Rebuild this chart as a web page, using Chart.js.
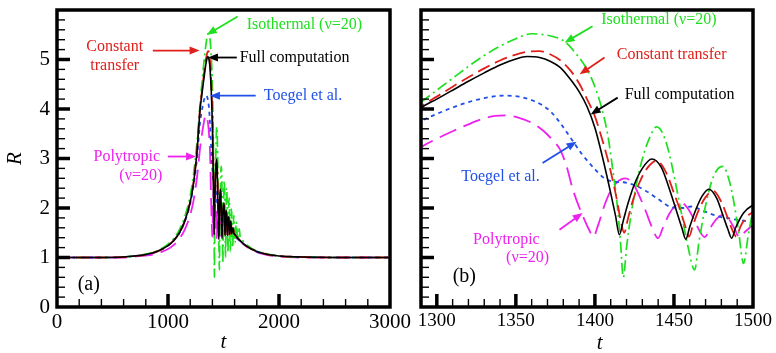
<!DOCTYPE html>
<html>
<head>
<meta charset="utf-8">
<script src="https://cdn.jsdelivr.net/npm/chart.js@4.4.1/dist/chart.umd.min.js"></script>
<style>
  html, body { margin: 0; padding: 0; background: #fff; }
  #wrap { position: relative; width: 776px; height: 353px; }
  #wrap canvas { position: absolute; left: 0; top: 0; }
</style>
</head>
<body>
<div id="wrap">
  <canvas id="chartA" width="776" height="353"></canvas>
  <canvas id="chartB" width="776" height="353"></canvas>
</div>
<script>
// bubble radius R against time t (t in the same units as the axis)

// Full computation
const tFull = [0, 400, 600, 700, 800, 900, 1000, 1050, 1100, 1150, 1200, 1230, 1260, 1290, 1300, 1310, 1320, 1330, 1340, 1350,
  1357, 1365, 1372, 1378, 1384, 1390, 1395, 1400, 1405, 1410, 1413, 1415.5, 1418, 1421, 1425, 1430, 1436, 1442, 1448, 1452,
  1455, 1457.5, 1460, 1464, 1468, 1472, 1477, 1481, 1484, 1486.5, 1489, 1494, 1500, 1504, 1508, 1511, 1513.5, 1516, 1521, 1525,
  1530, 1533, 1535.5, 1538, 1543, 1547, 1552, 1555.5, 1559, 1564, 1570, 1574, 1580, 1586, 1592, 1600, 1650, 1700, 1800, 1900,
  2000, 2200, 2500, 3000];
const rFull = [1.0, 1.0, 1.01, 1.03, 1.06, 1.12, 1.24, 1.34, 1.49, 1.73, 2.12, 2.5, 3.1, 4.02, 4.2, 4.38, 4.56, 4.73, 4.89, 5.01,
  5.06, 5.04, 4.96, 4.84, 4.62, 4.35, 4.05, 3.62, 3.0, 2.3, 1.85, 1.46, 1.75, 2.1, 2.48, 2.8, 2.99, 2.82, 2.3, 1.9,
  1.6, 1.37, 1.62, 1.98, 2.25, 2.38, 2.2, 1.85, 1.58, 1.39, 1.6, 1.9, 2.06, 2.1, 1.9, 1.65, 1.45, 1.63, 1.9, 1.95,
  1.75, 1.58, 1.45, 1.6, 1.8, 1.82, 1.64, 1.47, 1.62, 1.73, 1.6, 1.48, 1.58, 1.6, 1.5, 1.47, 1.34, 1.24, 1.12, 1.06,
  1.03, 1.01, 1.0, 1.0];

// Constant transfer
const tConst = [0, 400, 600, 700, 800, 900, 1000, 1050, 1100, 1150, 1200, 1230, 1260, 1290, 1300, 1310, 1320, 1330, 1340, 1350,
  1358, 1365, 1372, 1379, 1385, 1390, 1395, 1400, 1404, 1408, 1411, 1414, 1416, 1418.5, 1421, 1424, 1428, 1433, 1439, 1445,
  1450, 1454, 1457, 1459.5, 1462, 1466, 1470, 1475, 1480, 1484, 1487, 1489.5, 1492, 1496, 1500, 1505, 1510, 1513, 1516, 1519,
  1524, 1528, 1533, 1536, 1538.5, 1541, 1546, 1550, 1555, 1558.5, 1562, 1567, 1573, 1577, 1583, 1589, 1595, 1600, 1650, 1700,
  1800, 1900, 2000, 2200, 2500, 3000];
const rConst = [1.0, 1.0, 1.01, 1.03, 1.06, 1.12, 1.24, 1.34, 1.49, 1.73, 2.13, 2.52, 3.12, 4.05, 4.25, 4.45, 4.64, 4.82, 4.98, 5.1,
  5.16, 5.17, 5.1, 4.96, 4.76, 4.52, 4.2, 3.85, 3.45, 3.0, 2.6, 2.15, 1.8, 1.5, 1.8, 2.15, 2.5, 2.8, 2.95, 2.72,
  2.3, 1.95, 1.65, 1.42, 1.65, 1.98, 2.22, 2.34, 2.12, 1.8, 1.55, 1.42, 1.62, 1.82, 1.92, 2.08, 1.9, 1.66, 1.46, 1.65,
  1.88, 1.94, 1.72, 1.55, 1.45, 1.6, 1.78, 1.8, 1.62, 1.47, 1.62, 1.72, 1.58, 1.48, 1.57, 1.58, 1.49, 1.47, 1.34, 1.24,
  1.12, 1.06, 1.03, 1.01, 1.0, 1.0];

// Isothermal (nu = 20)
const tIso = [0, 400, 600, 700, 800, 900, 1000, 1050, 1100, 1150, 1200, 1230, 1260, 1291, 1300, 1310, 1320, 1330, 1340, 1350,
  1360, 1368, 1375, 1381, 1388, 1395, 1400, 1404, 1408, 1411, 1414, 1416, 1418, 1420, 1423, 1427, 1431, 1435, 1439, 1443,
  1447, 1451, 1455, 1459, 1463, 1466, 1470, 1474, 1478, 1481, 1485, 1488, 1491, 1494, 1497, 1500, 1503, 1507, 1511, 1514,
  1518, 1521, 1525, 1529, 1533, 1537, 1540, 1543, 1547, 1551, 1555, 1559, 1562, 1566, 1570, 1575, 1579, 1583, 1588, 1593,
  1598, 1603, 1609, 1615, 1621, 1628, 1635, 1642, 1650, 1660, 1700, 1800, 1900, 2000, 2200, 2500, 3000];
const rIso = [1.0, 1.0, 1.01, 1.03, 1.07, 1.13, 1.27, 1.38, 1.55, 1.82, 2.25, 2.68, 3.3, 4.16, 4.38, 4.62, 4.86, 5.08, 5.27, 5.42,
  5.52, 5.5, 5.45, 5.36, 5.12, 4.8, 4.45, 4.05, 3.5, 2.85, 2.1, 1.4, 0.6, 1.2, 1.9, 2.6, 3.1, 3.45, 3.64, 3.5,
  3.1, 2.5, 1.85, 1.2, 0.75, 1.35, 2.05, 2.55, 2.8, 2.84, 2.55, 2.1, 1.5, 0.88, 1.45, 1.95, 2.35, 2.55, 2.3, 1.75,
  1.0, 1.5, 2.15, 2.4, 2.1, 1.5, 1.1, 1.55, 2.05, 2.2, 1.85, 1.3, 1.12, 1.6, 1.98, 1.85, 1.4, 1.2, 1.6, 1.85,
  1.62, 1.3, 1.45, 1.72, 1.58, 1.35, 1.48, 1.58, 1.42, 1.38, 1.27, 1.13, 1.07, 1.03, 1.01, 1.0, 1.0];

// Toegel et al.
const tToegel = [0, 400, 600, 700, 800, 900, 1000, 1050, 1100, 1150, 1200, 1230, 1260, 1290, 1300, 1310, 1320, 1330, 1342, 1352,
  1360, 1366, 1372, 1378, 1385, 1392, 1399, 1406, 1412, 1418, 1425, 1432, 1440, 1448, 1455, 1461, 1468, 1478, 1485, 1490,
  1500, 1520, 1550, 1600, 1650, 1700, 1800, 1900, 2000, 2200, 2500, 3000];
const rToegel = [1.0, 1.0, 1.01, 1.03, 1.06, 1.12, 1.24, 1.34, 1.48, 1.72, 2.08, 2.45, 2.98, 3.75, 3.9, 4.03, 4.14, 4.22, 4.27, 4.25,
  4.18, 4.09, 3.95, 3.72, 3.4, 3.08, 2.82, 2.6, 2.53, 2.52, 2.46, 2.35, 2.18, 2.02, 2.0, 2.03, 1.95, 1.83, 1.79, 1.76,
  1.72, 1.65, 1.56, 1.43, 1.33, 1.24, 1.12, 1.06, 1.03, 1.01, 1.0, 1.0];

// Polytropic (nu = 20)
const tPoly = [0, 400, 600, 700, 800, 900, 1000, 1050, 1100, 1150, 1200, 1230, 1260, 1291, 1300, 1310, 1320, 1329, 1337, 1344,
  1352, 1360, 1367, 1373, 1378, 1382, 1386, 1390, 1394, 1396.5, 1399, 1402, 1406, 1410, 1414, 1419, 1424, 1428, 1432, 1436,
  1440, 1443, 1447, 1451, 1455, 1459, 1463, 1466, 1469.5, 1473, 1477, 1481, 1485, 1488, 1491.5, 1495, 1500, 1504, 1508, 1512,
  1515, 1518, 1522, 1526, 1530, 1533, 1537, 1541, 1545, 1549, 1553, 1558, 1563, 1568, 1575, 1582, 1590, 1600, 1650, 1700,
  1800, 1900, 2000, 2200, 3000];
const rPoly = [1.0, 1.0, 1.0, 1.02, 1.04, 1.08, 1.17, 1.25, 1.37, 1.56, 1.86, 2.15, 2.6, 3.25, 3.4, 3.55, 3.69, 3.8, 3.86, 3.87,
  3.82, 3.72, 3.57, 3.38, 3.18, 2.85, 2.38, 2.02, 1.72, 1.55, 1.42, 1.65, 2.05, 2.35, 2.52, 2.6, 2.5, 2.25, 1.95, 1.62,
  1.39, 1.6, 1.88, 2.05, 2.1, 1.98, 1.75, 1.55, 1.41, 1.6, 1.78, 1.86, 1.76, 1.6, 1.41, 1.52, 1.66, 1.78, 1.72, 1.55,
  1.42, 1.55, 1.7, 1.72, 1.58, 1.43, 1.58, 1.68, 1.62, 1.46, 1.52, 1.63, 1.57, 1.45, 1.55, 1.52, 1.44, 1.42, 1.33, 1.23,
  1.11, 1.05, 1.02, 1.0, 1.0];

// axis ticks
const tTicksA = [0, 1000, 2000, 3000];
const tTicksB = [1300, 1350, 1400, 1450, 1500];
const rTicks = [0, 1, 2, 3, 4, 5];

const SERIF = '"Liberation Serif", "Times New Roman", serif';
const GREEN = '#1ee01e', RED = '#e0201c', BLUE = '#2050e8', MAGENTA = '#ee22ee';

// dataset 0 ends up on top
const SERIES = [
  { t: tFull, r: rFull, color: '#000000', dash: [], width: 1.6 },
  { t: tConst, r: rConst, color: RED, dash: [13, 6], width: 1.8 },
  { t: tIso, r: rIso, color: GREEN, dash: [11, 4, 2, 4], width: 1.7 },
  { t: tToegel, r: rToegel, color: BLUE, dash: [4, 4], width: 1.8 },
  { t: tPoly, r: rPoly, color: MAGENTA, dash: [18, 8], width: 1.8 }
];

function buildDatasets() {
  return SERIES.map(s => ({
    data: s.t.map((t, i) => ({ x: t, y: s.r[i] })),
    borderColor: s.color,
    borderDash: s.dash,
    borderWidth: s.width,
    pointRadius: 0,
    fill: false,
    cubicInterpolationMode: 'monotone'
  }));
}

// thick frame and inward tick marks, the way the original plot has them
const framePlugin = {
  id: 'frame',
  afterDatasetsDraw(chart, args, opts) {
    const { ctx, chartArea: a, scales: { x, y } } = chart;
    ctx.save();
    ctx.strokeStyle = '#000';
    ctx.lineCap = 'butt';
    for (let v = Math.ceil(x.min / opts.minorX) * opts.minorX; v <= x.max; v += opts.minorX) {
      if (v <= x.min || v >= x.max) continue;
      const major = v % opts.majorX === 0;
      const px = x.getPixelForValue(v);
      ctx.lineWidth = major ? 3.5 : 1.4;
      ctx.beginPath();
      ctx.moveTo(px, a.bottom);
      ctx.lineTo(px, a.bottom - (major ? 13 : 8));
      ctx.stroke();
    }
    const per = Math.round(opts.majorY / opts.minorY);
    for (let i = 1; i * opts.minorY < y.max - 1e-6; i++) {
      const major = i % per === 0;
      const py = y.getPixelForValue(i * opts.minorY);
      ctx.lineWidth = major ? 3.5 : 1.4;
      ctx.beginPath();
      ctx.moveTo(a.left, py);
      ctx.lineTo(a.left + (major ? 13 : 8), py);
      ctx.stroke();
    }
    ctx.lineWidth = 3.5;
    ctx.strokeRect(a.left, a.top, a.width, a.height);
    ctx.restore();
  }
};

function drawArrow(ctx, x1, y1, x2, y2, color) {
  const ang = Math.atan2(y2 - y1, x2 - x1);
  const len = 10, half = 4;
  ctx.strokeStyle = color;
  ctx.fillStyle = color;
  ctx.lineWidth = 1.8;
  ctx.beginPath();
  ctx.moveTo(x1, y1);
  ctx.lineTo(x2 - Math.cos(ang) * len * 0.8, y2 - Math.sin(ang) * len * 0.8);
  ctx.stroke();
  ctx.beginPath();
  ctx.moveTo(x2, y2);
  ctx.lineTo(x2 - Math.cos(ang) * len - Math.sin(ang) * half, y2 - Math.sin(ang) * len + Math.cos(ang) * half);
  ctx.lineTo(x2 - Math.cos(ang) * len + Math.sin(ang) * half, y2 - Math.sin(ang) * len - Math.cos(ang) * half);
  ctx.closePath();
  ctx.fill();
}

// labels and arrows, placed in (t, R) coordinates
const notesPlugin = {
  id: 'notes',
  afterDraw(chart, args, opts) {
    const { ctx, scales: { x, y } } = chart;
    ctx.save();
    (opts.items || []).forEach(n => {
      if (n.arrow) {
        const [p, q] = n.arrow;
        drawArrow(ctx, x.getPixelForValue(p[0]), y.getPixelForValue(p[1]),
          x.getPixelForValue(q[0]), y.getPixelForValue(q[1]), n.color);
      }
      ctx.fillStyle = n.color;
      ctx.font = n.font || '16px ' + SERIF;
      ctx.textAlign = n.align || 'left';
      ctx.textBaseline = 'middle';
      n.lines.forEach((line, i) => {
        const at = n.at[i] || n.at[0];
        ctx.fillText(line, x.getPixelForValue(at[0]), y.getPixelForValue(at[1]));
      });
    });
    ctx.restore();
  }
};

const notesA = [
  { lines: ['Isothermal (ν=20)'], at: [[1709, 5.71]], color: GREEN, arrow: [[1628, 5.87], [1349, 5.5]] },
  { lines: ['Constant', 'transfer'], at: [[520, 5.26], [520, 4.88]], align: 'center', color: RED, arrow: [[863, 5.18], [1285, 5.18]] },
  { lines: ['Full computation'], at: [[1646, 5.04]], color: '#000', arrow: [[1620, 5.04], [1360, 5.04]] },
  { lines: ['Toegel et al.'], at: [[1863, 4.27]], color: BLUE, arrow: [[1790, 4.27], [1378, 4.27]] },
  { lines: ['Polytropic', '(ν=20)'], at: [[629, 3.04], [755, 2.65]], align: 'center', color: MAGENTA, arrow: [[999, 3.04], [1253, 3.04]] },
  { lines: ['(a)'], at: [[286, 0.45]], align: 'center', color: '#000', font: '20px ' + SERIF }
];

const notesB = [
  { lines: ['Isothermal (ν=20)'], at: [[1404, 5.81]], color: GREEN, arrow: [[1398.5, 5.67], [1380.8, 5.34]] },
  { lines: ['Constant transfer'], at: [[1413.8, 5.1]], color: RED, arrow: [[1406.1, 5.04], [1390.3, 4.7]] },
  { lines: ['Full computation'], at: [[1418.8, 4.29]], color: '#000', arrow: [[1414.4, 4.23], [1397.3, 3.89]] },
  { lines: ['Toegel et al.'], at: [[1315.5, 2.63]], color: BLUE, arrow: [[1366.9, 2.91], [1388.4, 3.34]] },
  { lines: ['Polytropic', '(ν=20)'], at: [[1344, 1.36], [1357.4, 0.99]], align: 'center', color: MAGENTA, arrow: [[1377.6, 1.56], [1392.2, 1.9]] },
  { lines: ['(b)'], at: [[1317.4, 0.61]], align: 'center', color: '#000', font: '20px ' + SERIF },
  { lines: ['t'], at: [[1403, -0.73]], align: 'center', color: '#000', font: 'italic 21px ' + SERIF }
];

function makeChart(id, cfg) {
  return new Chart(document.getElementById(id), {
    type: 'line',
    data: { datasets: buildDatasets() },
    options: {
      responsive: false,
      animation: false,
      events: [],
      layout: { padding: cfg.padding },
      plugins: {
        legend: { display: false },
        tooltip: { enabled: false },
        frame: { minorX: cfg.minorX, majorX: cfg.majorX, minorY: 0.2, majorY: 1 },
        notes: { items: cfg.notes }
      },
      scales: {
        x: {
          type: 'linear',
          min: cfg.xMin,
          max: cfg.xMax,
          afterFit: s => { s.height = 46; s.paddingLeft = 0; s.paddingRight = 0; },
          afterBuildTicks: s => { s.ticks = cfg.xTicks.map(v => ({ value: v })); },
          ticks: { font: { family: SERIF, size: cfg.tickSize }, color: '#000', padding: 3, maxRotation: 0,
            autoSkip: false, callback: v => String(v) },
          grid: { display: false, drawTicks: false },
          border: { display: false },
          title: { display: cfg.xTitle, text: 't', color: '#000', padding: 0,
            font: { family: SERIF, size: 21, style: 'italic', lineHeight: 1 } }
        },
        y: {
          type: 'linear',
          display: cfg.yLabels,
          min: 0,
          max: 6,
          afterFit: s => { s.width = cfg.yWidth; s.paddingTop = 0; s.paddingBottom = 0; },
          afterBuildTicks: s => { s.ticks = rTicks.map(v => ({ value: v })); },
          ticks: { font: { family: SERIF, size: 21 }, color: '#000', padding: 7, callback: v => String(v) },
          grid: { display: false, drawTicks: false },
          border: { display: false },
          title: { display: true, text: 'R', color: '#000', padding: { top: 3, bottom: 0 },
            font: { family: SERIF, size: 21, style: 'italic', lineHeight: 1.2 } }
        }
      }
    },
    plugins: [framePlugin, notesPlugin]
  });
}

makeChart('chartA', {
  padding: { left: 0, top: 10, right: 386, bottom: 0 },
  xMin: 0, xMax: 3000, xTicks: tTicksA, minorX: 200, majorX: 1000,
  tickSize: 21, xTitle: true, yLabels: true, yWidth: 57, notes: notesA
});

makeChart('chartB', {
  padding: { left: 421, top: 10, right: 23, bottom: 0 },
  xMin: 1290, xMax: 1500, xTicks: tTicksB, minorX: 10, majorX: 50,
  tickSize: 19, xTitle: false, yLabels: false, yWidth: 0, notes: notesB
});
</script>
</body>
</html>
